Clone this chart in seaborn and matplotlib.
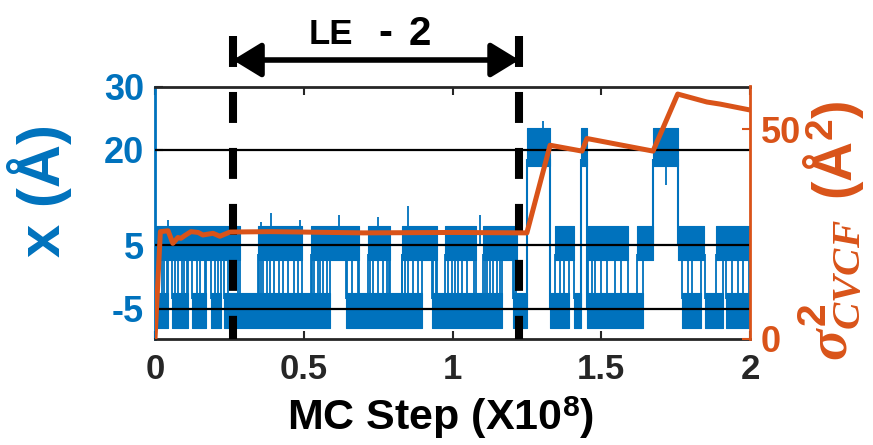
import matplotlib
matplotlib.use("Agg")
import matplotlib.pyplot as plt
import seaborn as sns

sns.set_theme(style="white")
plt.rcParams["font.family"] = ["Liberation Sans", "DejaVu Sans"]
plt.rcParams["font.weight"] = "bold"
plt.rcParams["mathtext.fontset"] = "custom"
plt.rcParams["mathtext.rm"] = "Liberation Sans:bold"
plt.rcParams["mathtext.bf"] = "Liberation Sans:bold"
plt.rcParams["mathtext.it"] = "Liberation Serif:italic:bold"
plt.rcParams["lines.scale_dashes"] = False

BLUE = "#0072BD"
ORANGE = "#D95319"
INK = "#262626"

# ---- coordinate trace x (Å) ----
# stretches of MC steps (x1e8) during which each basin is visited
upper_spans = [
    (0.004, 0.286), (0.347, 0.493), (0.524, 0.686), (0.717, 0.790),
    (0.829, 0.947), (0.975, 1.078), (1.104, 1.216),
    (1.345, 1.410), (1.455, 1.590), (1.620, 1.674), (1.758, 1.845), (1.885, 2.000),
]
lower_spans = [
    (0.000, 0.045), (0.058, 0.112), (0.125, 0.172), (0.188, 0.222), (0.232, 0.588),
    (0.641, 0.896), (0.930, 1.165), (1.205, 1.250),
    (1.328, 1.390), (1.410, 1.433), (1.452, 1.640), (1.770, 1.835), (1.850, 1.910),
    (1.920, 1.995),
]
# excursions to the far basin (~20 Å): start, end, level left from, level returned to
top_start = [1.250, 1.433, 1.674]
top_end = [1.328, 1.452, 1.758]
top_entry = [-5, -5, 5]
top_exit = [-5, -5, 5]
# typical spread of the fluctuations in each basin (Å)
upper_band = (2.6, 8.0)
lower_band = (-8.0, -2.5)
top_band = (17.5, 23.5)
# hops between the -5 Å and +5 Å basins
hop_step = [
    0.006, 0.022, 0.031, 0.039, 0.045, 0.058, 0.067, 0.078, 0.090, 0.099,
    0.106, 0.112, 0.125, 0.140, 0.151, 0.168, 0.172, 0.188, 0.202, 0.213,
    0.222, 0.232, 0.244, 0.280, 0.286, 0.347, 0.350, 0.356, 0.364, 0.375,
    0.387, 0.401, 0.417, 0.431, 0.448, 0.468, 0.482, 0.493, 0.524, 0.527,
    0.536, 0.547, 0.555, 0.566, 0.577, 0.588, 0.641, 0.644, 0.661, 0.681,
    0.686, 0.717, 0.723, 0.734, 0.751, 0.768, 0.779, 0.787, 0.790, 0.829,
    0.831, 0.840, 0.852, 0.868, 0.885, 0.896, 0.930, 0.936, 0.943, 0.947,
    0.975, 0.984, 0.997, 1.008, 1.020, 1.033, 1.048, 1.073, 1.078, 1.104,
    1.108, 1.115, 1.126, 1.137, 1.148, 1.160, 1.165, 1.205, 1.208, 1.214,
    1.345, 1.360, 1.375, 1.390, 1.410, 1.455, 1.470, 1.480, 1.500, 1.520,
    1.545, 1.565, 1.590, 1.620, 1.640, 1.770, 1.790, 1.805, 1.835, 1.850,
    1.885, 1.910, 1.920, 1.940, 1.960, 1.975, 1.995,
]
# isolated excursions beyond the usual spread
spike_step = [0.044, 0.357, 0.390, 0.487, 0.618, 0.750, 0.851, 1.092, 1.305, 1.718]
spike_base = [5, 5, 5, 5, 5, 5, 5, 5, 20, 20]
spike_value = [8.9, 8.7, 10.0, 8.9, 9.8, 9.5, 11.1, 9.7, 24.5, 14.4]

# ---- variance of the collective variable (Å^2) ----
sigma_step = [0.0, 0.018, 0.044, 0.060, 0.077, 0.087, 0.101, 0.121, 0.145, 0.161,
              0.195, 0.218, 0.252, 0.39, 0.70, 1.00, 1.25, 1.328, 1.435, 1.452,
              1.674, 1.757, 1.855, 1.90, 2.0]
sigma_value = [0.0, 25.6, 25.8, 22.8, 24.2, 24.0, 24.7, 25.6, 25.4, 24.8,
               25.2, 24.5, 25.5, 25.6, 25.3, 25.4, 25.3, 46.2, 44.8, 47.8,
               44.8, 58.4, 56.5, 56.0, 54.6]

reference_levels = [-5, 5, 20]
window_edges = [0.262, 1.224]
window_label_parts = ["LE", "-", "2"]

x_ticks = [0, 0.5, 1, 1.5, 2]
x_tick_labels = ["0", "0.5", "1", "1.5", "2"]
left_ticks = [-5, 5, 20, 30]
right_ticks = [0, 50]

W, H = 873, 445
fig = plt.figure(figsize=(W / 100, H / 100), dpi=100)
ax = fig.add_axes([155 / W, 1 - 339 / H, (750 - 155) / W, (339 - 86.5) / H])
ax2 = ax.twinx()

# trace: occupied basins as filled bands, joined by the hop lines
for spans, (lo, hi) in [(upper_spans, upper_band), (lower_spans, lower_band)]:
    for s, e in spans:
        ax.fill_between([s, e], lo, hi, color=BLUE, linewidth=0.8, zorder=2)
for s, e in zip(top_start, top_end):
    ax.fill_between([s, e], top_band[0], top_band[1], color=BLUE, linewidth=0.8, zorder=2)
ax.vlines(hop_step, lower_band[1] - 1, upper_band[0] + 1, color=BLUE, lw=1.3, zorder=2)
ax.vlines(top_start, top_entry, top_band[0] + 1, color=BLUE, lw=1.5, zorder=2)
ax.vlines(top_end, top_exit, top_band[0] + 1, color=BLUE, lw=1.5, zorder=2)
ax.vlines(spike_step, spike_base, spike_value, color=BLUE, lw=1.3, zorder=2)

for lvl in reference_levels:
    ax.axhline(lvl, color="black", lw=1.6, zorder=3)

ylo, yhi = -9.8, 30
for xb in window_edges:
    ax.plot([xb, xb], [37.95, ylo], color="black", lw=5.8,
            linestyle=(0, (22.3, 18.0)), solid_capstyle="butt",
            clip_on=False, zorder=5)

ax.annotate("", xy=(window_edges[0], 1 - 60 / H), xytext=(window_edges[1], 1 - 60 / H),
            xycoords=("data", "figure fraction"), textcoords=("data", "figure fraction"),
            arrowprops=dict(arrowstyle="<|-|>,head_length=0.9,head_width=0.55",
                            mutation_scale=19, lw=4.0, color="black",
                            shrinkA=0, shrinkB=0))
fig.text(353 / W, 1 - 44 / H, window_label_parts[0], ha="right", va="baseline",
         fontsize=25, fontweight="bold", color="black")
fig.text(385 / W, 1 - 45 / H, window_label_parts[1], ha="center", va="baseline",
         fontsize=30, fontweight="bold", color="black")
fig.text(409 / W, 1 - 45 / H, window_label_parts[2], ha="left", va="baseline",
         fontsize=29, fontweight="bold", color="black")

# variance curve on the right-hand axis
sns.lineplot(x=sigma_step, y=sigma_value, ax=ax2, color=ORANGE, lw=3.6,
             sort=False, estimator=None, zorder=4)

ax.set_xlim(0, 2)
ax.set_ylim(ylo, yhi)
ax2.set_ylim(0, 60.2)
ax.set_xticks(x_ticks)
ax.set_xticklabels(x_tick_labels)
ax.set_yticks(left_ticks)
ax.set_yticklabels([str(t) for t in left_ticks])
ax2.set_yticks(right_ticks)
ax2.set_yticklabels([str(t) for t in right_ticks])

ax.tick_params(axis="x", direction="in", length=6, width=1.5, color=INK,
               labelcolor=INK, labelsize=25, pad=10, top=True, bottom=True)
ax.tick_params(axis="y", direction="in", length=6, width=1.5, color=INK,
               labelcolor=BLUE, labelsize=26, pad=8, left=True, right=False)
ax2.tick_params(axis="y", direction="in", length=6, width=1.5, color=ORANGE,
                labelcolor=ORANGE, labelsize=26, pad=8, right=True)
for lab in ax.get_xticklabels() + ax.get_yticklabels() + ax2.get_yticklabels():
    lab.set_fontweight("bold")

for side in ["top", "bottom"]:
    ax.spines[side].set_color(INK)
    ax.spines[side].set_linewidth(2)
ax.spines["left"].set_color(BLUE)
ax.spines["left"].set_linewidth(2)
ax.spines["right"].set_visible(False)
for side in ["top", "bottom", "left"]:
    ax2.spines[side].set_visible(False)
ax2.spines["right"].set_color(ORANGE)
ax2.spines["right"].set_linewidth(2)
ax.grid(False)
ax2.grid(False)

ax.set_xlabel("MC Step (X10$^{8}$)", fontsize=31, fontweight="bold", color="black")
ax.xaxis.set_label_coords(0.48, -0.218)
ax.set_ylabel("x (Å)", fontsize=43, fontweight="bold", color=BLUE)
ax.yaxis.set_label_coords(-0.14, 0.59)

# right-hand axis title: symbol and unit set as two rotated pieces
fig.text(830 / W, 1 - 290 / H, r"$\sigma^{2}_{CVCF}$", rotation=90, ha="center",
         va="center", fontsize=42, color=ORANGE)
fig.text(834 / W, 1 - 150 / H, "(Å$^{2}$)", rotation=90, ha="center",
         va="center", fontsize=40, fontweight="bold", color=ORANGE)

fig.savefig("out.png", dpi=100)
